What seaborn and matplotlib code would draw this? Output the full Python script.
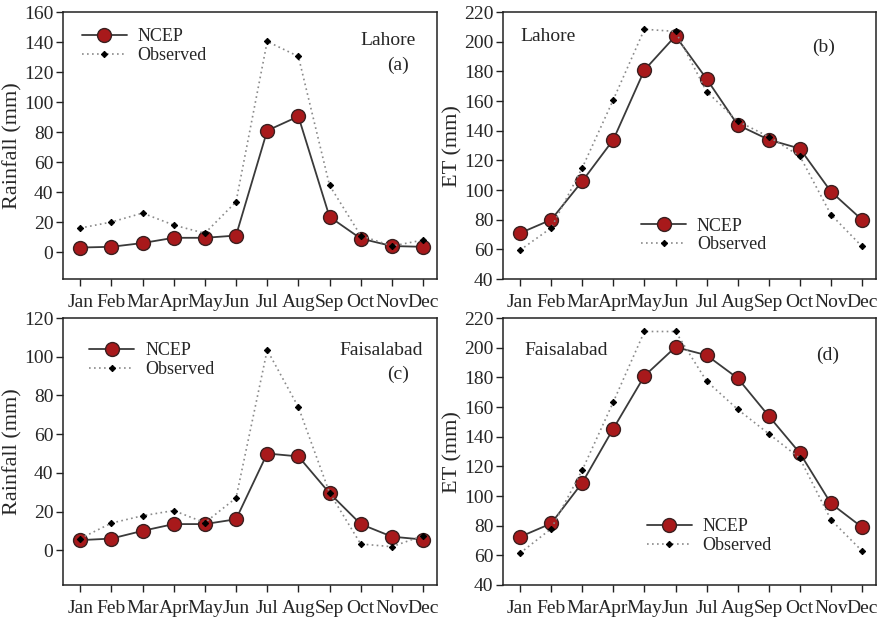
import numpy as np
import pandas as pd
import matplotlib
matplotlib.use('Agg')
from matplotlib import pyplot as plt
import seaborn as sns


months = ['Jan', 'Feb', 'Mar', 'Apr', 'May', 'Jun',
          'Jul', 'Aug', 'Sep', 'Oct', 'Nov', 'Dec']

lahore_rain_ncep = [3, 3.5, 6, 9.5, 9.5, 11, 81, 90.5, 23.5, 9, 4, 3.5]
lahore_rain_obs = [16, 20, 26, 18, 12.5, 33.5, 140.5, 130.5, 44.5, 11, 4, 8]

lahore_et_ncep = [71, 80, 106, 134, 181, 204, 175, 144, 134, 128, 99, 80]
lahore_et_obs = [59.5, 74.5, 115, 161, 208.5, 207, 166.5, 146.5, 136, 123, 83.5, 62]

fsd_rain_ncep = [5.2, 6, 10, 13.5, 13.5, 16, 50, 48.5, 29.5, 13.5, 7, 5.5]
fsd_rain_obs = [6, 14, 17.8, 20.5, 14.2, 27, 103.5, 74, 29.7, 3.2, 1.8, 7.5]

fsd_et_ncep = [72.5, 81.5, 109, 145.5, 181, 200.5, 195, 179.5, 154, 129, 95, 79]
fsd_et_obs = [61.5, 78, 117.5, 163.5, 211, 211, 177.5, 158.5, 142, 125.5, 84, 63]

sns.set_style('ticks')
plt.rcParams['font.family'] = ['Liberation Serif', 'DejaVu Serif']
plt.rcParams['font.size'] = 13

ncep_fill = '#a8191b'
line_col = '#3a3a3a'


def draw_panel(ax, ncep, obs, ylim, yticks, ylabel, city, tag,
               city_xy, tag_xy, leg_xy):
    df = pd.DataFrame({'month': np.arange(12), 'NCEP': ncep, 'Observed': obs})
    sns.lineplot(data=df, x='month', y='NCEP', ax=ax, color=line_col,
                 lw=1.3, marker='o', markersize=10, markerfacecolor=ncep_fill,
                 markeredgecolor='#3a2020', markeredgewidth=1.0, label='NCEP')
    sns.lineplot(data=df, x='month', y='Observed', ax=ax, color='#8a8a8a',
                 lw=1.2, ls=(0, (1, 2)), marker='D', markersize=3.2,
                 markerfacecolor='black', markeredgecolor='black',
                 label='Observed')
    ax.set_xlim(-0.55, 11.45)
    ax.set_ylim(*ylim)
    ax.set_yticks(yticks)
    ax.set_xticks(np.arange(12))
    ax.set_xticklabels(months)
    ax.set_xlabel('')
    ax.set_ylabel(ylabel, fontsize=16, labelpad=1)
    ax.tick_params(axis='both', direction='out', length=5, width=1,
                   color='#222222', labelsize=14, pad=2)
    ax.tick_params(axis='x', pad=6)
    for s in ax.spines.values():
        s.set_linewidth(1.1)
        s.set_color('#222222')
    ax.text(city_xy[0], city_xy[1], city, transform=ax.transAxes,
            ha='center', va='center', fontsize=14)
    ax.text(tag_xy[0], tag_xy[1], tag, transform=ax.transAxes,
            ha='center', va='center', fontsize=14)
    ax.legend(loc='upper left', bbox_to_anchor=leg_xy, frameon=False,
              borderpad=0, borderaxespad=0, handlelength=2.5,
              handletextpad=0.6, labelspacing=0.1, fontsize=13)


fig = plt.figure(figsize=(8.78, 6.22), dpi=100)
ax_a = fig.add_axes([0.0718, 0.5514, 0.426, 0.429])
ax_b = fig.add_axes([0.5729, 0.5514, 0.4248, 0.429])
ax_c = fig.add_axes([0.0718, 0.0595, 0.426, 0.429])
ax_d = fig.add_axes([0.5729, 0.0595, 0.4248, 0.429])

draw_panel(ax_a, lahore_rain_ncep, lahore_rain_obs, (-18, 160),
           np.arange(0, 161, 20), 'Rainfall (mm)', 'Lahore', '(a)',
           (0.87, 0.895), (0.895, 0.80), (0.05, 0.94))
draw_panel(ax_b, lahore_et_ncep, lahore_et_obs, (40, 220),
           np.arange(40, 221, 20), 'ET (mm)', 'Lahore', '(b)',
           (0.12, 0.91), (0.86, 0.87), (0.37, 0.23))
draw_panel(ax_c, fsd_rain_ncep, fsd_rain_obs, (-18, 120),
           np.arange(0, 121, 20), 'Rainfall (mm)', 'Faisalabad', '(c)',
           (0.85, 0.88), (0.895, 0.79), (0.07, 0.91))
draw_panel(ax_d, fsd_et_ncep, fsd_et_obs, (40, 220),
           np.arange(40, 221, 20), 'ET (mm)', 'Faisalabad', '(d)',
           (0.17, 0.88), (0.87, 0.86), (0.385, 0.25))

fig.savefig('out.png', dpi=100)
